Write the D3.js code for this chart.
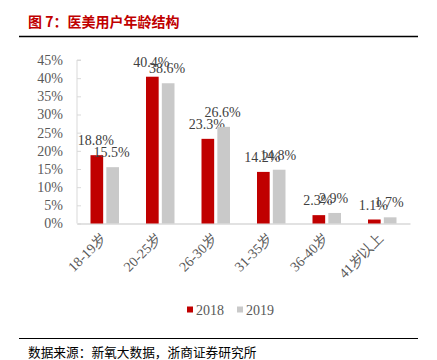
<!DOCTYPE html>
<html><head><meta charset="utf-8">
<script src="https://cdn.jsdelivr.net/npm/d3@7"></script>
<style>body{margin:0;background:#fff}</style>
</head><body>
<script>
const categories = ["18-19岁","20-25岁","26-30岁","31-35岁","36-40岁","41岁以上"];
const series2018 = [18.8, 40.4, 23.3, 14.2, 2.3, 1.1];
const series2019 = [15.5, 38.6, 26.6, 14.8, 2.9, 1.7];
const seriesNames = ["2018","2019"];
const yTicks = [0,5,10,15,20,25,30,35,40,45];
const title = "图 7：医美用户年龄结构";
const source = "数据来源：新氧大数据，浙商证券研究所";

(function(){
const W = 437, H = 360;
const svg = d3.select("body").append("svg").attr("width", W).attr("height", H);
const colors = ["#C00000", "#C9C9C9"];
const serif = "'Liberation Serif','Times New Roman',serif";
const cjk = "'Noto Sans CJK SC',sans-serif";

// title
svg.append("text").attr("x", 28).attr("y", 27).attr("font-family", cjk)
  .attr("font-size", 14).attr("font-weight", "bold").attr("fill", "#C00000").text(title);
svg.append("line").attr("x1", 19).attr("x2", 418).attr("y1", 36.5).attr("y2", 36.5)
  .attr("stroke", "#000").attr("stroke-width", 1.6);

const pl = 77, pr = 410, pt = 60, pb = 223.5;
const y = d3.scaleLinear().domain([0, 45]).range([pb, pt]);
const x = d3.scaleBand().domain(categories).range([pl, pr]).paddingInner(0).paddingOuter(0);
const x1 = d3.scaleBand().domain(seriesNames).range([13.5, 42]).paddingInner(0.2);

// y axis
const yAxis = svg.append("g").attr("transform", `translate(${pl},0)`)
  .call(d3.axisLeft(y).tickValues(yTicks).tickFormat(d => d + "%").tickSize(-4).tickPadding(14));
yAxis.select(".domain").attr("stroke", "#D9D9D9").attr("d", `M4,${pt}H0V${pb}`);
yAxis.selectAll(".tick line").attr("stroke", "#D9D9D9");
yAxis.selectAll(".tick text").attr("font-family", serif).attr("font-size", 14).attr("fill", "#595959");

// x axis
const xAxis = svg.append("g").attr("transform", `translate(0,${pb})`)
  .call(d3.axisBottom(x).tickSize(0).tickPadding(0));
xAxis.select(".domain").attr("stroke", "#D9D9D9").attr("stroke-width", 1.5);
xAxis.selectAll(".tick text").attr("font-family", serif).attr("font-size", 14).attr("fill", "#595959")
  .attr("text-anchor", "end").attr("dy", null).attr("y", 0)
  .attr("transform", "translate(2,16) rotate(-45)");

const data = [series2018, series2019];
data.forEach((vals, si) => {
  const g = svg.append("g");
  g.selectAll("rect").data(vals).join("rect")
    .attr("x", (d, i) => x(categories[i]) + x1(seriesNames[si]))
    .attr("width", x1.bandwidth())
    .attr("y", d => y(d))
    .attr("height", d => pb - y(d))
    .attr("fill", colors[si]);
  g.selectAll("text").data(vals).join("text")
    .attr("x", (d, i) => x(categories[i]) + x1(seriesNames[si]) + x1.bandwidth() / 2 - 1)
    .attr("y", d => y(d) - 10)
    .attr("text-anchor", "middle")
    .attr("font-family", serif).attr("font-size", 14).attr("fill", "#404040")
    .text(d => d.toFixed(1) + "%");
});

// legend
const lg = svg.append("g");
seriesNames.forEach((n, i) => {
  const lx = 187 + i * 50;
  lg.append("rect").attr("x", lx).attr("y", 306.5).attr("width", 6).attr("height", 6).attr("fill", colors[i]);
  lg.append("text").attr("x", lx + 9).attr("y", 314.5).attr("font-family", serif)
    .attr("font-size", 14).attr("fill", "#595959").text(n);
});

svg.append("line").attr("x1", 19).attr("x2", 418).attr("y1", 338.5).attr("y2", 338.5)
  .attr("stroke", "#000").attr("stroke-width", 1.2);
svg.append("text").attr("x", 28).attr("y", 356.5).attr("font-family", cjk)
  .attr("font-size", 12.7).attr("fill", "#000").text(source);
})();
</script>
</body></html>
